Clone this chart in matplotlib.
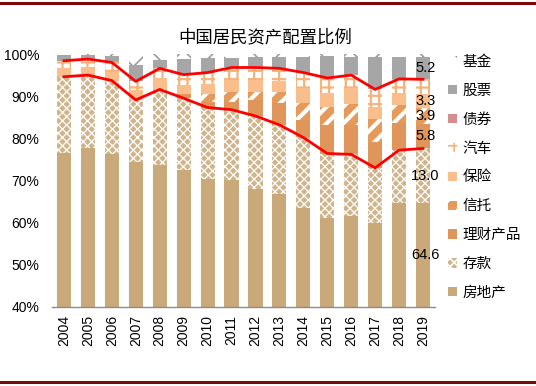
import matplotlib
matplotlib.use('Agg')
import matplotlib.pyplot as plt
from matplotlib.lines import Line2D
import numpy as np

years = ['2004', '2005', '2006', '2007', '2008', '2009', '2010', '2011',
         '2012', '2013', '2014', '2015', '2016', '2017', '2018', '2019']
real_estate = [76.6, 77.8, 76.3, 74.4, 73.6, 72.6, 70.3, 70.1, 68.1, 66.9, 63.5, 61.1, 61.6, 60.0, 64.6, 64.6]
deposits    = [18.0, 17.2, 17.4, 14.7, 18.0, 16.9, 17.0, 16.7, 17.2, 16.3, 16.7, 15.3, 14.6, 13.0, 12.6, 13.0]
wealth_mgmt = [0.0, 0.0, 0.0, 0.0, 0.0, 1.0, 1.4, 1.9, 3.8, 5.1, 4.1, 6.8, 7.0, 6.2, 6.4, 5.8]
trust       = [0.0, 0.0, 0.0, 0.0, 0.0, 0.0, 1.9, 2.4, 2.0, 2.8, 4.0, 4.3, 4.9, 5.5, 4.3, 3.9]
insurance   = [2.0, 2.0, 2.1, 2.4, 2.7, 2.2, 2.4, 2.7, 2.7, 2.5, 3.7, 3.2, 3.8, 2.8, 2.8, 3.3]
car         = [1.8, 1.8, 2.2, 2.0, 2.3, 2.4, 2.6, 3.0, 3.0, 3.0, 3.6, 3.6, 3.1, 4.1, 3.4, 3.4]
bonds       = [0.0, 0.0, 0.0, 0.0, 0.0, 0.0, 0.0, 0.0, 0.0, 0.0, 0.0, 0.0, 0.0, 0.0, 0.0, 0.0]
stocks      = [1.3, 0.9, 1.5, 3.9, 2.0, 3.7, 3.4, 2.2, 2.4, 2.6, 3.6, 5.2, 4.4, 7.8, 5.3, 5.2]
funds       = [0.3, 0.3, 0.5, 2.6, 1.4, 1.2, 1.0, 1.0, 0.8, 0.8, 0.8, 0.5, 0.6, 0.6, 0.6, 0.8]

series_names = ['房地产', '存款', '理财产品', '信托', '保险', '汽车', '债券', '股票', '基金']
series_vals = [real_estate, deposits, wealth_mgmt, trust, insurance, car, bonds, stocks, funds]
labelled = ['房地产', '存款', '理财产品', '信托', '保险', '股票']
title = '中国居民资产配置比例'

plt.rcParams['font.family'] = ['Liberation Sans', 'Noto Sans CJK SC']

styles = {
    '房地产': dict(facecolor='#C9A97A', edgecolor='#C9A97A', hatch=None, hlw=1.0),
    '存款': dict(facecolor='#D0B48C', edgecolor='white', hatch='xxxx', hlw=0.9),
    '理财产品': dict(facecolor='#E0955A', edgecolor='#E0955A', hatch=None, hlw=1.0),
    '信托': dict(facecolor='#E59A5C', edgecolor='white', hatch='//', hlw=3.0),
    '保险': dict(facecolor='#F9BE8C', edgecolor='#F9BE8C', hatch=None, hlw=1.0),
    '汽车': dict(facecolor='white', edgecolor='#F7B27A', hatch='++', hlw=1.6),
    '债券': dict(facecolor='#D48E8E', edgecolor='#D48E8E', hatch=None, hlw=1.0),
    '股票': dict(facecolor='#A6A6A6', edgecolor='#A6A6A6', hatch=None, hlw=1.0),
    '基金': dict(facecolor='white', edgecolor='#9A9A9A', hatch='x', hlw=1.2),
}

fig = plt.figure(figsize=(5.36, 3.86), dpi=100)
ax = fig.add_axes([52/536, 1-307/386, 383/536, 253/386])

x = np.arange(len(years))
bottom = np.zeros(len(years))
handles = {}
cum = {}
for name, vals in zip(series_names, series_vals):
    v = np.array(vals)
    st = styles[name]
    plt.rcParams['hatch.linewidth'] = st['hlw']
    b = ax.bar(x, v, 0.59, bottom=bottom, facecolor=st['facecolor'],
               edgecolor=st['edgecolor'], hatch=st['hatch'], linewidth=0,
               label=name, zorder=2)
    for p in b.patches:
        if hasattr(p, 'set_hatch_linewidth'):
            p.set_hatch_linewidth(st['hlw'])
    handles[name] = b
    if name in labelled:
        i = len(years) - 1
        lo = max(bottom[i], 40.0)
        hi = bottom[i] + v[i]
        ax.text(x[i] + 0.1, (lo + hi) / 2, f'{v[i]:.1f}', ha='center',
                va='center', fontsize=10.5, color='black', zorder=5)
    bottom = bottom + v
    cum[name] = bottom.copy()

lower = cum['存款']
upper = cum['债券']
ax.plot(x, lower, color='#FF0000', lw=2, zorder=4)
ax.plot(x, upper, color='#FF0000', lw=2, zorder=4)

ax.set_xlim(-0.5, len(years) - 0.5)
ax.set_ylim(40, 100)
ax.set_yticks([40, 50, 60, 70, 80, 90, 100])
ax.set_yticklabels([f'{t}%' for t in [40, 50, 60, 70, 80, 90, 100]], fontsize=10)
ax.set_xticks(x)
ax.set_xticklabels(years, rotation=90, fontsize=10)
ax.tick_params(axis='y', length=0, pad=9)
ax.tick_params(axis='x', length=0, pad=6)
for s in ['top', 'right', 'left']:
    ax.spines[s].set_visible(False)
ax.spines['bottom'].set_color('#8C8C8C')
ax.spines['bottom'].set_linewidth(1)

fig.text(265/536, 1-37/386, title, ha='center', va='center', fontsize=12.5,
         family=['Noto Sans CJK SC'])

order = series_names[::-1]
leg = fig.legend([handles[n] for n in order], order, loc='upper left',
                 bbox_to_anchor=(448/536, 1-55/386), frameon=False,
                 prop={'family': 'Noto Sans CJK SC', 'size': 10.5},
                 handlelength=0.6, handleheight=0.6, handletextpad=0.4,
                 labelspacing=1.02, borderpad=0, borderaxespad=0)

fig.add_artist(Line2D([0, 1], [1-3/386]*2, color='#7A0A0A', lw=2.2, transform=fig.transFigure))
fig.add_artist(Line2D([0, 1], [1-382/386]*2, color='#7A0A0A', lw=2.2, transform=fig.transFigure))

fig.savefig('out.png', dpi=100)
